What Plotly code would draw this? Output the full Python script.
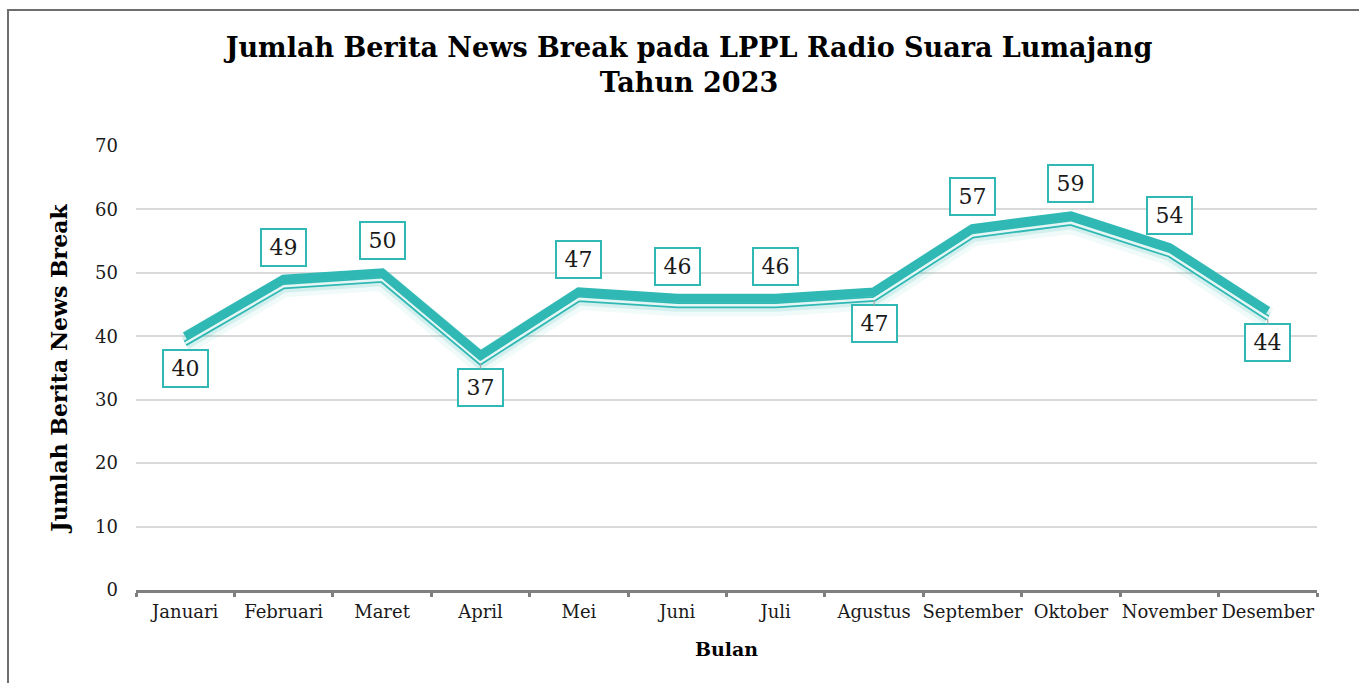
import plotly.graph_objects as go

months = ["Januari", "Februari", "Maret", "April", "Mei", "Juni", "Juli",
          "Agustus", "September", "Oktober", "November", "Desember"]
values = [40, 49, 50, 37, 47, 46, 46, 47, 57, 59, 54, 44]
label_side = ["below", "above", "above", "below", "above", "above", "above",
              "below", "above", "above", "above", "below"]
leader = [False, False, False, True, False, False, False, True, False, False, False, True]
y_ticks = [0, 10, 20, 30, 40, 50, 60, 70]

TEAL = "#30B9B4"
FONT = "DejaVu Serif"
W, H = 1359, 683
L, R, T, B = 136, 42, 146, 93
plot_h = H - T - B
YMAX = 70
px_per_unit = plot_h / YMAX
shift = 7 / px_per_unit  # offset for the "3D" under-line

fig = go.Figure()

# glow / shadow on offset axis
fig.add_trace(go.Scatter(x=months, y=values, mode="lines", yaxis="y2",
                         line=dict(color="rgba(48,185,180,0.08)", width=22),
                         hoverinfo="skip", showlegend=False))
fig.add_trace(go.Scatter(x=months, y=values, mode="lines", yaxis="y2",
                         line=dict(color="rgba(48,185,180,0.14)", width=13),
                         hoverinfo="skip", showlegend=False))
fig.add_trace(go.Scatter(x=months, y=values, mode="lines", yaxis="y2",
                         line=dict(color=TEAL, width=6),
                         hoverinfo="skip", showlegend=False))
fig.add_trace(go.Scatter(x=months, y=values, mode="lines", yaxis="y2",
                         line=dict(color="#E6F6F5", width=2.5),
                         hoverinfo="skip", showlegend=False))
# main thick line
fig.add_trace(go.Scatter(x=months, y=values, mode="lines", yaxis="y3",
                         line=dict(color=TEAL, width=9),
                         hoverinfo="skip", showlegend=False))

annotations = []
for m, v, side, ld in zip(months, values, label_side, leader):
    annotations.append(dict(
        x=m, y=v, xref="x", yref="y", text=str(v),
        showarrow=True, arrowhead=0, arrowwidth=1.2,
        arrowcolor="#A6A6A6" if ld else "rgba(0,0,0,0)",
        standoff=8 if ld else 0,
        ax=0, ay=-32 if side == "above" else 32,
        font=dict(family=FONT, size=22, color="#1a1a1a"),
        bgcolor="white", bordercolor=TEAL, borderwidth=2, borderpad=2,
        width=39, height=31,
    ))

fig.update_layout(
    width=W, height=H,
    margin=dict(l=L, r=R, t=T, b=B),
    paper_bgcolor="white", plot_bgcolor="white",
    title=dict(text="<b>Jumlah Berita News Break pada LPPL Radio Suara Lumajang<br>Tahun 2023</b>",
               x=689 / W, xref="container", xanchor="center",
               y=1 - 57 / H, yref="container", yanchor="middle",
               font=dict(family=FONT, size=27, color="black")),
    xaxis=dict(type="category", categoryorder="array", categoryarray=months,
               range=[-0.5, 11.5], showgrid=False, showline=True, linecolor="#7F7F7F",
               linewidth=3, ticks="outside", tickson="boundaries", ticklen=4,
               tickwidth=3, tickcolor="#7F7F7F", tickangle=0, ticklabelstandoff=3,
               tickfont=dict(family=FONT, size=18, color="#1a1a1a"),
               title=dict(text="<b>Bulan</b>", font=dict(family=FONT, size=19, color="black"),
                          standoff=23),
               zeroline=False),
    yaxis=dict(range=[0, YMAX], tickvals=y_ticks, showgrid=True, gridcolor="#D9D9D9",
               gridwidth=1.5, showline=False, zeroline=False, ticks="",
               ticklabelstandoff=17,
               tickfont=dict(family=FONT, size=18, color="#1a1a1a"),
               title=dict(text="<b>Jumlah Berita News Break</b>",
                          font=dict(family=FONT, size=22, color="black"), standoff=21)),
    yaxis2=dict(range=[shift, YMAX + shift], overlaying="y", visible=False),
    yaxis3=dict(range=[0, YMAX], overlaying="y", visible=False),
    annotations=annotations,
    shapes=[dict(type="rect", xref="paper", yref="paper",
                 x0=(8 - L) / (W - L - R), x1=1.2,
                 y0=-0.5, y1=(H - B - 10) / plot_h,
                 line=dict(color="#6E6E6E", width=2), fillcolor="rgba(0,0,0,0)",
                 layer="below")],
    showlegend=False,
)

fig.write_html("out.html", config={"displayModeBar": False},
               post_script="document.body.style.margin='0';document.body.style.overflow='hidden';")
